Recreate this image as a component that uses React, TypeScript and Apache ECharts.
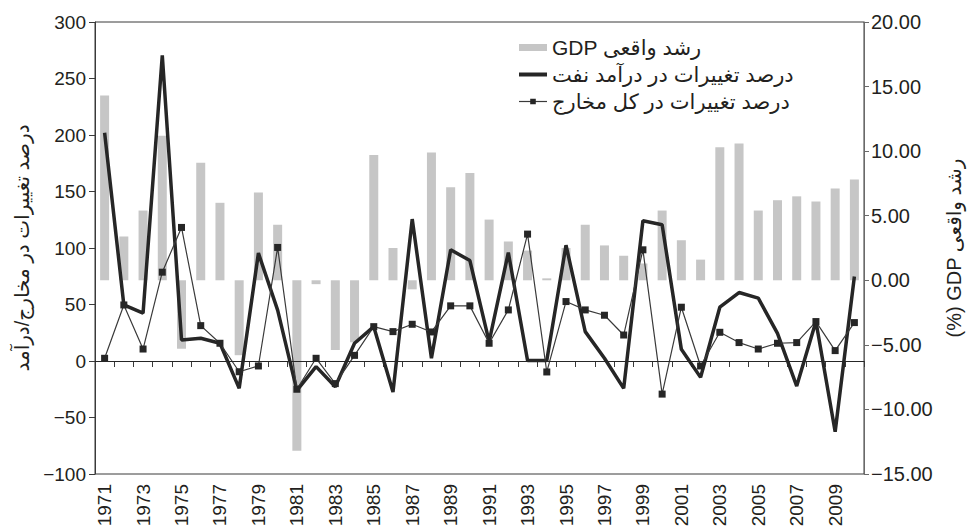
import React, { useEffect, useRef } from "react";
import * as echarts from "echarts";

const years = [
  "1971", "1972", "1973", "1974", "1975", "1976", "1977", "1978", "1979", "1980",
  "1981", "1982", "1983", "1984", "1985", "1986", "1987", "1988", "1989", "1990",
  "1991", "1992", "1993", "1994", "1995", "1996", "1997", "1998", "1999", "2000",
  "2001", "2002", "2003", "2004", "2005", "2006", "2007", "2008", "2009", "2010",
];

const gdpGrowth = [
  14.3, 3.4, 5.4, 11.2, -5.3, 9.1, 6.0, -5.8, 6.8, 4.3,
  -13.2, -0.3, -5.4, -4.8, 9.7, 2.5, -0.7, 9.9, 7.2, 8.3,
  4.7, 3.0, 2.3, 0.15, 2.5, 4.3, 2.7, 1.9, 1.3, 5.4,
  3.1, 1.6, 10.3, 10.6, 5.4, 6.2, 6.5, 6.1, 7.1, 7.8,
];

const oilRevenueChange = [
  202, 49.6, 42.3, 270.4, 18.6, 20.1, 15.7, -24.2, 95.5, 45,
  -26, -5, -22.8, 15.7, 30.4, -27.5, 125.6, 2.4, 98.4, 88.9,
  17.1, 96, 0.5, 0.5, 102.5, 26, 2.4, -24.2, 124.1, 120.6,
  10.3, -14.5, 47.6, 60.6, 55.6, 24.5, -22.2, 34.9, -62.6, 74.8,
];

const expenditureChange = [
  2.4, 49.6, 10.6, 78.6, 118.2, 31.3, 15.7, -9.5, -4.4, 100.5,
  -25, 2.4, -20, 5, 30.4, 26, 32.5, 25.7, 48.8, 48.8,
  15.7, 45.2, 112.3, -9.7, 52.6, 45.2, 40.5, 23, 98.4, -29.3,
  47.6, -4.4, 25.4, 16.3, 10.6, 15.7, 16.3, 34.9, 9.2, 34,
];

const gdpName = "GDP رشد واقعی";
const oilName = "درصد تغییرات در درآمد نفت";
const expName = "درصد تغییرات در کل مخارج";
const leftAxisName = "درصد تغییرات در مخارج/درآمد";
const rightAxisName = "(%) GDP رشد واقعی";

const FONT = "'Liberation Sans', Arial, 'DejaVu Sans', sans-serif";
const TEXT = "#231f20";

const minus = (s: string) => s.replace("-", "\u2212");

export default function App() {
  const ref = useRef<HTMLDivElement>(null);

  useEffect(() => {
    if (!ref.current) return;
    const chart = echarts.init(ref.current, undefined, { renderer: "svg" });
    chart.setOption({
      animation: false,
      backgroundColor: "#ffffff",
      textStyle: { fontFamily: FONT, color: TEXT },
      grid: {
        left: 95,
        right: 108,
        top: 22,
        bottom: 57,
        show: true,
        borderColor: "#3a3a3a",
        borderWidth: 1,
      },
      legend: {
        orient: "vertical",
        left: 512,
        top: 32,
        itemWidth: 28,
        itemHeight: 7,
        itemGap: 6,
        textStyle: { fontSize: 21, color: TEXT, fontFamily: FONT },
        data: [
          { name: gdpName, icon: "rect" },
          { name: oilName, itemStyle: { opacity: 0 }, lineStyle: { width: 4 } },
          { name: expName, lineStyle: { width: 1.2 } },
        ],
      },
      xAxis: {
        type: "category",
        data: years,
        boundaryGap: true,
        axisLine: { show: true, lineStyle: { color: "#3a3a3a", width: 1 } },
        axisTick: { show: true, interval: 0, length: 6, lineStyle: { color: "#3a3a3a" } },
        axisLabel: {
          interval: 1,
          rotate: 90,
          fontSize: 19,
          color: TEXT,
          margin: 10,
          fontFamily: FONT,
        },
        splitLine: { show: false },
      },
      yAxis: [
        {
          type: "value",
          position: "left",
          min: -100,
          max: 300,
          interval: 50,
          axisLine: { show: true, lineStyle: { color: "#3a3a3a", width: 1 } },
          axisTick: { show: true, length: 6, lineStyle: { color: "#3a3a3a" } },
          axisLabel: {
            fontSize: 19,
            color: TEXT,
            margin: 9,
            fontFamily: FONT,
            formatter: (v: number) => minus(String(v)),
          },
          splitLine: { show: false },
          name: leftAxisName,
          nameLocation: "middle",
          nameRotate: 90,
          nameGap: 60,
          nameTextStyle: { fontSize: 20, color: TEXT, fontFamily: FONT },
        },
        {
          type: "value",
          position: "right",
          min: -15,
          max: 20,
          interval: 5,
          axisLine: { show: true, lineStyle: { color: "#6a6a6a", width: 1 } },
          axisTick: { show: true, length: 5, lineStyle: { color: "#6a6a6a" } },
          axisLabel: {
            fontSize: 20,
            color: TEXT,
            margin: 7,
            fontFamily: FONT,
            formatter: (v: number) => minus(v.toFixed(2)),
          },
          splitLine: { show: false },
          name: rightAxisName,
          nameLocation: "middle",
          nameRotate: 90,
          nameGap: 76,
          nameTextStyle: { fontSize: 20, color: TEXT, fontFamily: FONT },
        },
      ],
      series: [
        {
          name: gdpName,
          type: "bar",
          yAxisIndex: 1,
          data: gdpGrowth,
          barWidth: 9,
          itemStyle: { color: "#c6c6c6" },
          z: 1,
        },
        {
          name: oilName,
          type: "line",
          yAxisIndex: 0,
          data: oilRevenueChange,
          symbol: "none",
          lineStyle: { color: "#262626", width: 3.5 },
          itemStyle: { color: "#262626" },
          z: 3,
        },
        {
          name: expName,
          type: "line",
          yAxisIndex: 0,
          data: expenditureChange,
          symbol: "rect",
          symbolSize: 7,
          lineStyle: { color: "#3a3a3a", width: 1.2 },
          itemStyle: { color: "#262626" },
          z: 4,
          markLine: {
            silent: true,
            symbol: "none",
            label: { show: false },
            lineStyle: { color: "#262626", width: 1, type: "solid" },
            data: [{ yAxis: 0 }],
          },
        },
      ],
    });
    return () => chart.dispose();
  }, []);

  return (
    <div
      ref={ref}
      style={{ position: "fixed", left: 0, top: 0, width: 972, height: 531, background: "#fff" }}
    />
  );
}
